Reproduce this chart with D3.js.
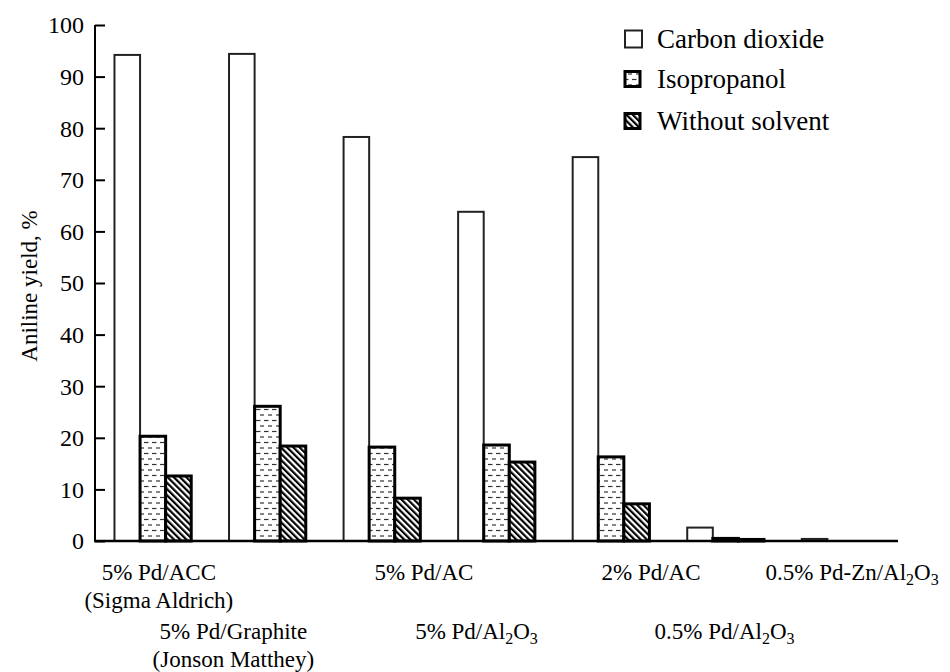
<!DOCTYPE html>
<html><head><meta charset="utf-8">
<script src="https://cdn.jsdelivr.net/npm/d3@7"></script>
<style>body{margin:0;background:#fff}svg{display:block}</style>
</head><body><svg id="c" width="950" height="672" font-family="'Liberation Serif', 'Times New Roman', Times, serif"></svg>
<script>
// ---- data ----
const categoryLine1 = ["5% Pd/ACC", "5% Pd/Graphite", "5% Pd/AC", "5% Pd/Al_2O_3", "2% Pd/AC", "0.5% Pd/Al_2O_3", "0.5% Pd-Zn/Al_2O_3"];
const categoryLine2 = ["(Sigma Aldrich)", "(Jonson Matthey)", "", "", "", "", ""];
const seriesNames = ["Carbon dioxide", "Isopropanol", "Without solvent"];
const carbonDioxide = [94.2, 94.4, 78.3, 63.8, 74.4, 2.6, 0.4];
const isopropanol   = [20.3, 26.1, 18.2, 18.6, 16.3, 0.5, 0];
const withoutSolvent= [12.6, 18.4, 8.3, 15.3, 7.2, 0.3, 0];
const yTicks = [0,10,20,30,40,50,60,70,80,90,100];
const yLabel = "Aniline yield, %";

// ---- layout (not data) ----
const labelShift = [6, -34, 42, -20, 40, -1, 12];
const labelRow = [0, 1, 0, 1, 0, 1, 0];
const FONT = "'Liberation Serif', 'Times New Roman', Times, serif";

const svg = d3.select("#c");
const defs = svg.append("defs");
const p1 = defs.append("pattern").attr("id","pIso").attr("patternUnits","userSpaceOnUse")
  .attr("width",8).attr("height",11);
p1.append("rect").attr("width",8).attr("height",11).attr("fill","#fff");
p1.append("line").attr("x1",0).attr("x2",4.5).attr("y1",2.5).attr("y2",2.5).attr("stroke","#333").attr("stroke-width",1.2);
p1.append("line").attr("x1",4).attr("x2",8.5).attr("y1",8).attr("y2",8).attr("stroke","#333").attr("stroke-width",1.2);
const p2 = defs.append("pattern").attr("id","pW").attr("patternUnits","userSpaceOnUse")
  .attr("width",4.4).attr("height",10).attr("patternTransform","rotate(-45)");
p2.append("rect").attr("width",4.4).attr("height",10).attr("fill","#fff");
p2.append("line").attr("x1",1.1).attr("x2",1.1).attr("y1",-1).attr("y2",11).attr("stroke","#000").attr("stroke-width",2.2);

const fills = ["#fff","url(#pIso)","url(#pW)"];
const strokeW = [2, 3, 3];
const strokeC = ["#222","#000","#000"];

const x0 = d3.scaleBand().domain(d3.range(categoryLine1.length)).range([95, 898]).paddingInner(0.33).paddingOuter(0.17);
const x1 = d3.scaleBand().domain(d3.range(3)).range([0, x0.bandwidth()]);
const y = d3.scaleLinear().domain([0,100]).range([541, 25]);

const series = [carbonDioxide, isopropanol, withoutSolvent];
series.forEach((vals, s) => {
  svg.append("g").selectAll("rect").data(vals).join("rect")
    .attr("x", (d,i) => x0(i) + x1(s))
    .attr("y", d => y(d))
    .attr("width", x1.bandwidth())
    .attr("height", d => y(0) - y(d))
    .attr("fill", fills[s]).attr("stroke", strokeC[s]).attr("stroke-width", strokeW[s])
    .attr("display", d => d > 0 ? null : "none");
});

// y axis
const yAxis = svg.append("g").attr("transform","translate(95,0)")
  .call(d3.axisRight(y).tickValues(yTicks).tickSize(10).tickFormat(""));
yAxis.select(".domain").attr("stroke","#000").attr("stroke-width",2).attr("d","M0,25V541");
yAxis.selectAll(".tick line").attr("stroke","#000").attr("stroke-width",2);
svg.append("g").selectAll("text").data(yTicks).join("text")
  .attr("font-family", FONT)
  .attr("x", 84).attr("y", d => y(d)).attr("dy","0.35em").attr("text-anchor","end")
  .attr("font-size", 24).text(d => d);

// x axis
const xAxis = svg.append("g").attr("transform","translate(0,541)")
  .call(d3.axisBottom(x0).tickSize(0).tickFormat(""));
xAxis.select(".domain").attr("stroke","#000").attr("stroke-width",2.5).attr("d","M94,0H898");

function rich(sel, str){
  const parts = str.split(/(_\d)/).filter(p => p);
  let pending = 0;
  parts.forEach(p => {
    if (p[0] === "_") {
      sel.append("tspan").attr("font-size", 16).attr("dy", 5 + pending).text(p[1]);
      pending = -5;
    } else {
      const t = sel.append("tspan").text(p);
      if (pending) t.attr("dy", pending);
      pending = 0;
    }
  });
}
const rowY = [580, 639];
categoryLine1.forEach((c, i) => {
  const cx = x0(i) + x0.bandwidth()/2 + labelShift[i];
  const by = rowY[labelRow[i]];
  const t = svg.append("text").attr("font-family", FONT).attr("x", cx).attr("y", by).attr("text-anchor","middle").attr("font-size",23);
  rich(t, c);
  if (categoryLine2[i]) {
    svg.append("text").attr("font-family", FONT).attr("x", cx).attr("y", by + 28).attr("text-anchor","middle").attr("font-size",23).text(categoryLine2[i]);
  }
});

svg.append("text").attr("font-family", FONT).attr("transform","translate(37,286) rotate(-90)").attr("text-anchor","middle")
  .attr("font-size",23).text(yLabel);

const legY = [39, 79, 121];
seriesNames.forEach((n, s) => {
  const sz = s === 0 ? 17 : 15;
  svg.append("rect").attr("x", 625).attr("y", legY[s] - sz/2).attr("width", sz).attr("height", sz)
    .attr("fill", fills[s]).attr("stroke", strokeC[s]).attr("stroke-width", s===0?2:3);
  svg.append("text").attr("font-family", FONT).attr("x", 657).attr("y", legY[s]).attr("dy","0.35em").attr("font-size",27).text(n);
});
</script></body></html>
